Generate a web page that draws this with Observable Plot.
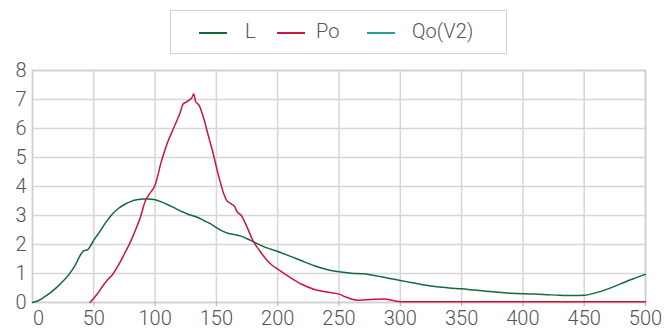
<!DOCTYPE html>
<html>
<head>
<meta charset="utf-8">
<script src="https://cdn.jsdelivr.net/npm/d3@7"></script>
<script src="https://cdn.jsdelivr.net/npm/@observablehq/plot@0.6"></script>
<style>
  html, body { margin: 0; padding: 0; background: #fff; }
  #wrap { position: relative; width: 664px; height: 329px; font-family: Roboto, "Liberation Sans", sans-serif; }
  #legend { position: absolute; left: 170px; top: 10px; width: 335px; height: 42px; border: 1.5px solid #d2d2d2; }
  .sw { position: absolute; top: 21px; height: 2px; width: 28px; }
  .lb { position: absolute; top: 8px; font-size: 20px; font-weight: 300; color: #555; line-height: 24px; }
  #chart { position: absolute; left: 0; top: 58px; }
</style>
</head>
<body>
<div id="wrap">
  <div id="legend"></div>
  <div id="chart"></div>
</div>
<script>
const seriesNames = ["L", "Po", "Qo(V2)"];
const seriesColors = ["#116b3b", "#c9163c", "#1ea392"];

const xTicks = [0, 50, 100, 150, 200, 250, 300, 350, 400, 450, 500];
const yTicks = [0, 1, 2, 3, 4, 5, 6, 7, 8];

const lX = [0,5,10,15,20,25,30,35,40,42,45,48,50,55,60,65,70,75,80,85,90,95,100,105,110,115,120,125,130,135,140,145,150,155,160,165,170,175,180,190,200,210,220,230,240,250,260,270,280,290,300,310,320,330,340,350,360,370,380,390,400,410,420,430,440,450,460,470,480,490,500];
const lY = [0,0.07,0.2,0.35,0.53,0.74,0.98,1.3,1.7,1.79,1.82,2.0,2.15,2.45,2.77,3.04,3.24,3.38,3.48,3.54,3.57,3.57,3.54,3.47,3.38,3.28,3.17,3.08,3.0,2.93,2.82,2.72,2.58,2.46,2.38,2.34,2.29,2.2,2.1,1.9,1.76,1.6,1.43,1.27,1.14,1.06,1.01,0.99,0.92,0.84,0.76,0.68,0.6,0.54,0.5,0.47,0.43,0.39,0.35,0.32,0.3,0.29,0.27,0.25,0.24,0.25,0.34,0.48,0.65,0.82,0.97];

const poX = [47,50,53,57,62,65,70,75,80,85,88,92,95,100,105,110,115,120,123,125,128,130,131.5,133,136,140,143,147,151,156,158,162,165,167,170,175,180,185,190,195,200,210,220,230,240,250,255,260,265,270,280,287,292,297,300,350,400,450,500];
const poY = [0,0.15,0.3,0.55,0.82,0.95,1.28,1.68,2.1,2.6,2.94,3.5,3.72,4.05,4.85,5.5,6.0,6.5,6.85,6.9,6.99,7.06,7.2,6.94,6.79,6.3,5.82,5.2,4.5,3.75,3.55,3.4,3.3,3.12,3.02,2.6,2.12,1.8,1.52,1.3,1.15,0.87,0.62,0.45,0.36,0.29,0.2,0.12,0.08,0.09,0.11,0.12,0.09,0.04,0.03,0.03,0.03,0.03,0.03];

const lData = lX.map((x, i) => ({x, y: lY[i]}));
const poData = poX.map((x, i) => ({x, y: poY[i]}));

// legend
const legend = document.getElementById("legend");
const swX = [28, 106, 196];
const lbX = [74, 145, 241];
seriesNames.forEach((n, i) => {
  const s = document.createElement("div");
  s.className = "sw"; s.style.left = swX[i] + "px"; s.style.background = seriesColors[i];
  legend.appendChild(s);
  const t = document.createElement("div");
  t.className = "lb"; t.style.left = lbX[i] + "px"; t.textContent = n;
  legend.appendChild(t);
});

const chart = Plot.plot({
  width: 664,
  height: 271,
  marginLeft: 32,
  marginRight: 19,
  marginTop: 12,
  marginBottom: 27,
  x: {domain: [0, 500]},
  y: {domain: [0, 8]},
  style: {fontFamily: "Roboto, 'Liberation Sans', sans-serif", fontSize: "20px", fontWeight: 300, color: "#555", background: "#fff"},
  marks: [
    Plot.gridX(xTicks, {stroke: "#d6d6d6", strokeOpacity: 1, strokeWidth: 1.5}),
    Plot.gridY(yTicks, {stroke: "#d6d6d6", strokeOpacity: 1, strokeWidth: 1.5}),
    Plot.frame({stroke: "#cfcfcf", strokeWidth: 1.5}),
    Plot.axisX(xTicks.slice(1), {tickSize: 4, tickPadding: 4, stroke: "#aaa", label: null, tickFormat: d => String(d)}),
    Plot.axisX(xTicks.slice(0, 1), {tickSize: 0, tickPadding: 8, dx: 6, label: null, tickFormat: d => String(d)}),
    Plot.axisY(yTicks, {tickSize: 0, tickPadding: 6, label: null, tickFormat: d => String(d)}),
    Plot.line(lData, {x: "x", y: "y", stroke: seriesColors[0], strokeWidth: 1.5, curve: "monotone-x"}),
    Plot.line(poData, {x: "x", y: "y", stroke: seriesColors[1], strokeWidth: 1.5, curve: "monotone-x"})
  ]
});
document.getElementById("chart").appendChild(chart);
</script>
</body>
</html>
